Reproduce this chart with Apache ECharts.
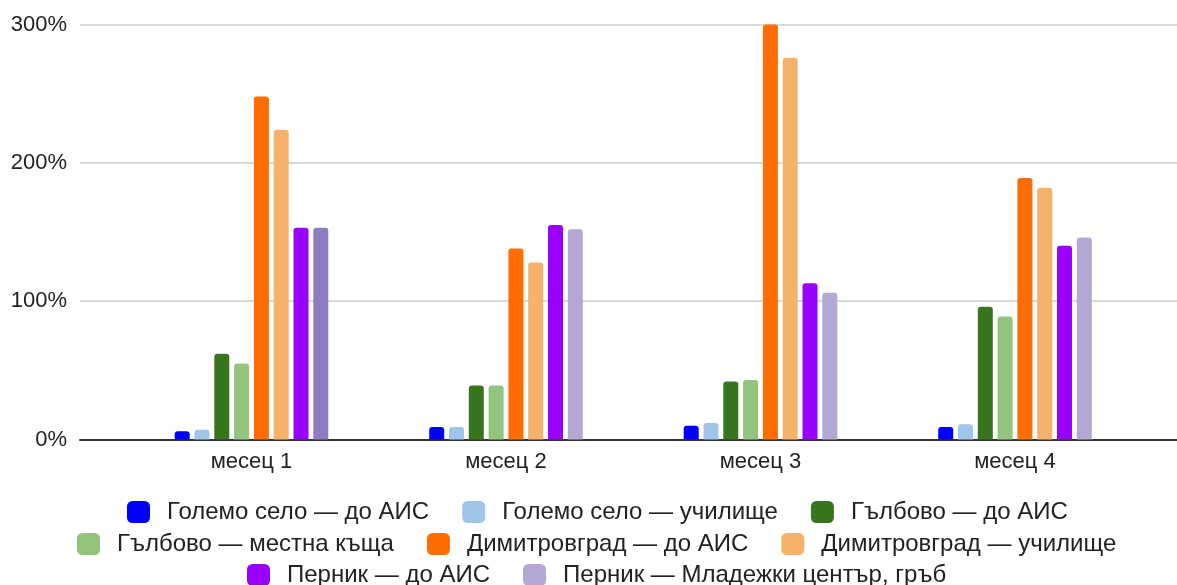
<!DOCTYPE html>
<html>
<head>
<meta charset="utf-8">
<script src="https://cdn.jsdelivr.net/npm/echarts@6/dist/echarts.min.js"></script>
<style>
html,body{margin:0;padding:0;background:#fff;}
#chart{width:1177px;height:585px;}
</style>
</head>
<body>
<div id="chart"></div>
<script>
const categories = ['месец 1', 'месец 2', 'месец 3', 'месец 4'];
const yTicks = [0, 100, 200, 300];

const seriesNames = [
  'Големо село — до АИС',
  'Големо село — училище',
  'Гълбово — до АИС',
  'Гълбово — местна къща',
  'Димитровград — до АИС',
  'Димитровград — училище',
  'Перник — до АИС',
  'Перник — Младежки център, гръб'
];

const golemoSeloAIS = [6, 9, 10, 9];
const golemoSeloSchool = [7, 9, 12, 11];
const galabovoAIS = [62, 39, 42, 96];
const galabovoHouse = [55, 39, 43, 89];
const dimitrovgradAIS = [248, 138, 310, 189];
const dimitrovgradSchool = [224, 128, 276, 182];
const pernikAIS = [153, 155, 113, 140];
const pernikYouth = [153, 152, 106, 146];

const seriesValues = [golemoSeloAIS, golemoSeloSchool, galabovoAIS, galabovoHouse,
  dimitrovgradAIS, dimitrovgradSchool, pernikAIS, pernikYouth];

const colors = ['#0000ff', '#9fc5e8', '#38761d', '#93c47d', '#ff6d01', '#f6b26b', '#9900ff', '#b4a7d6'];
const pointColorOverride = { 7: { 0: '#8e7cc3' } };

const FONT = '"Liberation Sans", Arial, sans-serif';
const TEXT = '#222222';

const series = seriesValues.map((vals, i) => ({
  name: seriesNames[i],
  type: 'bar',
  xAxisIndex: 1,
  yAxisIndex: 1,
  barWidth: 15,
  barGap: '32%',
  clip: true,
  itemStyle: { color: colors[i], borderRadius: [3, 3, 0, 0] },
  data: vals.map((v, j) => {
    const c = pointColorOverride[i] && pointColorOverride[i][j];
    return c ? { value: v, itemStyle: { color: c } } : v;
  })
}));

// legend layout: three centred rows
const LEG_FONT_SIZE = 24, ICON_W = 23, ICON_H = 22, ITEM_GAP = 33, TEXT_PAD = 12;
const LEG_CENTER_X = 597;
const measureCtx = document.createElement('canvas').getContext('2d');
measureCtx.font = LEG_FONT_SIZE + 'px ' + FONT;
const legendRows = [seriesNames.slice(0, 3), seriesNames.slice(3, 6), seriesNames.slice(6)];
const legendTops = [500, 532, 563];
const legends = legendRows.map((row, k) => {
  let w = 0;
  row.forEach((name, idx) => {
    w += ICON_W + 5 + TEXT_PAD + measureCtx.measureText(name).width;
    if (idx > 0) w += ITEM_GAP;
  });
  return {
    data: row,
    top: legendTops[k],
    left: Math.round(LEG_CENTER_X - w / 2),
    padding: 0,
    orient: 'horizontal',
    icon: 'roundRect',
    itemWidth: ICON_W,
    itemHeight: ICON_H,
    itemGap: ITEM_GAP,
    itemStyle: { borderWidth: 0 },
    textStyle: { fontFamily: FONT, fontSize: LEG_FONT_SIZE, color: TEXT, padding: [0, 0, 0, TEXT_PAD] }
  };
});

const chart = echarts.init(document.getElementById('chart'), null, { renderer: 'canvas' });
chart.setOption({
  animation: false,
  backgroundColor: '#ffffff',
  color: colors,
  legend: legends,
  grid: [
    { left: 80, right: 0, top: 24.5, bottom: 145.5 },
    { left: 124.25, right: 34.75, top: 24.5, bottom: 145.5 }
  ],
  xAxis: [
    { gridIndex: 0, type: 'value', min: 0, max: 1,
      axisLine: { show: true, lineStyle: { color: '#333333', width: 2 } },
      axisTick: { show: false }, axisLabel: { show: false }, splitLine: { show: false } },
    { gridIndex: 1, type: 'category', data: categories,
      axisLine: { show: false }, axisTick: { show: false },
      axisLabel: { fontFamily: FONT, fontSize: 22, color: TEXT, margin: 11 } }
  ],
  yAxis: [
    { gridIndex: 0, type: 'value', min: yTicks[0], max: yTicks[yTicks.length - 1], interval: 100,
      axisLine: { show: false }, axisTick: { show: false },
      axisLabel: { fontFamily: FONT, fontSize: 22, color: TEXT, margin: 13, formatter: '{value}%' },
      splitLine: { show: true, lineStyle: { color: '#cccccc', width: 1.5 } } },
    { gridIndex: 1, type: 'value', min: yTicks[0], max: yTicks[yTicks.length - 1], interval: 100,
      show: false, splitLine: { show: false } }
  ],
  series: series
});
</script>
</body>
</html>
